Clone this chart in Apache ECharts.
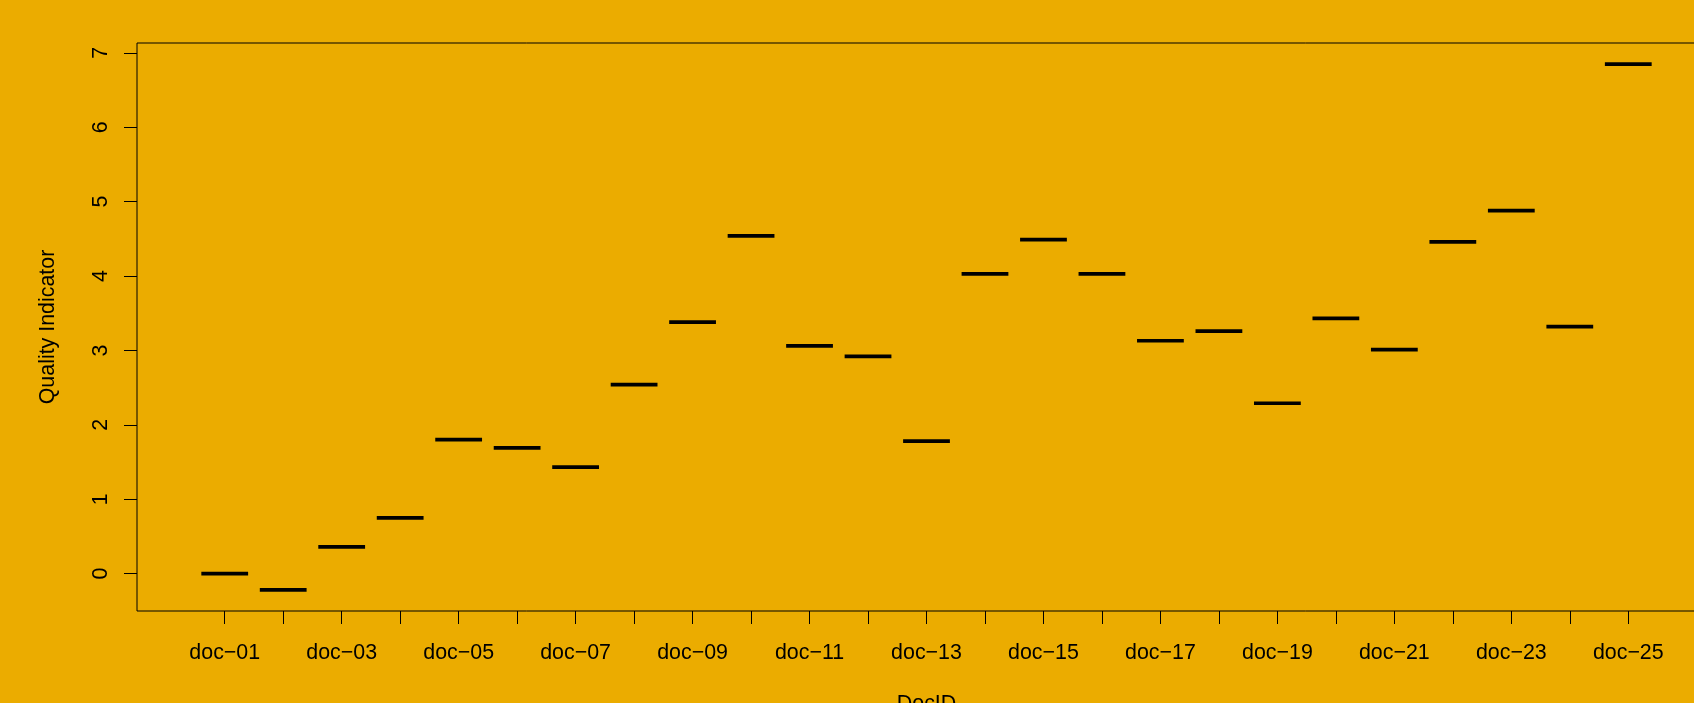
<!DOCTYPE html>
<html>
<head>
<meta charset="utf-8">
<script src="https://cdn.jsdelivr.net/npm/echarts@6/dist/echarts.min.js"></script>
<style>
html, body { margin: 0; padding: 0; background: #EBAC00; }
#chart { width: 1694px; height: 703px; }
</style>
</head>
<body>
<div id="chart"></div>
<script>
const categories = ['doc-01','doc-02','doc-03','doc-04','doc-05','doc-06','doc-07','doc-08','doc-09','doc-10',
  'doc-11','doc-12','doc-13','doc-14','doc-15','doc-16','doc-17','doc-18','doc-19','doc-20',
  'doc-21','doc-22','doc-23','doc-24','doc-25'];
const values = [0.00, -0.22, 0.36, 0.75, 1.80, 1.69, 1.43, 2.54, 3.38, 4.54,
  3.06, 2.92, 1.78, 4.03, 4.49, 4.03, 3.13, 3.26, 2.29, 3.43,
  3.01, 4.46, 4.88, 3.32, 6.85];
const yTicks = [0, 1, 2, 3, 4, 5, 6, 7];

const FONT = 'Liberation Sans, Arial, Helvetica, sans-serif';
const FS = 21.4;

// category positions on the numeric x scale (1..n), as R's boxplot does
const xPos = categories.map((c, i) => i + 1);
const xLabelPos = xPos.filter((p, i) => i % 2 === 0);

const chart = echarts.init(document.getElementById('chart'), null, { renderer: 'canvas' });
chart.setOption({
  backgroundColor: '#EBAC00',
  animation: false,
  grid: {
    left: 137, top: 43, right: -22, bottom: 92,
    containLabel: false, outerBoundsMode: 'none',
    show: true, borderColor: '#000', borderWidth: 1, backgroundColor: 'transparent'
  },
  xAxis: {
    type: 'value',
    min: -0.5, max: categories.length + 1.5,
    name: 'DocID', nameLocation: 'middle', nameGap: 83,
    nameTextStyle: { color: '#000', fontFamily: FONT, fontSize: FS },
    axisLine: { show: false, onZero: false },
    splitLine: { show: false },
    axisTick: { show: true, inside: false, length: 13, customValues: xPos, lineStyle: { color: '#000', width: 1 } },
    axisLabel: {
      show: true, margin: 32, customValues: xLabelPos,
      color: '#000', fontFamily: FONT, fontSize: FS,
      formatter: function (v) { const c = categories[Math.round(v) - 1]; return c ? c.replace('-', '\u2212') : ''; }
    }
  },
  yAxis: {
    type: 'value',
    min: -0.503, max: 7.133,
    name: 'Quality Indicator', nameLocation: 'middle', nameGap: 78,
    nameTextStyle: { color: '#000', fontFamily: FONT, fontSize: FS },
    axisLine: { show: false, onZero: false },
    splitLine: { show: false },
    axisTick: { show: true, inside: false, length: 13, customValues: yTicks, lineStyle: { color: '#000', width: 1 } },
    axisLabel: {
      show: true, margin: 25, rotate: 90, customValues: yTicks,
      color: '#000', fontFamily: FONT, fontSize: FS
    }
  },
  series: [{
    type: 'custom',
    coordinateSystem: 'cartesian2d',
    data: values.map((v, i) => [xPos[i], v]),
    renderItem: function (params, api) {
      const x = api.value(0), y = api.value(1);
      const p1 = api.coord([x - 0.4, y]);
      const p2 = api.coord([x + 0.4, y]);
      return {
        type: 'line',
        shape: { x1: p1[0], y1: p1[1], x2: p2[0], y2: p2[1] },
        style: { stroke: '#000', lineWidth: 3.7, lineCap: 'butt' }
      };
    }
  }]
});
</script>
</body>
</html>
